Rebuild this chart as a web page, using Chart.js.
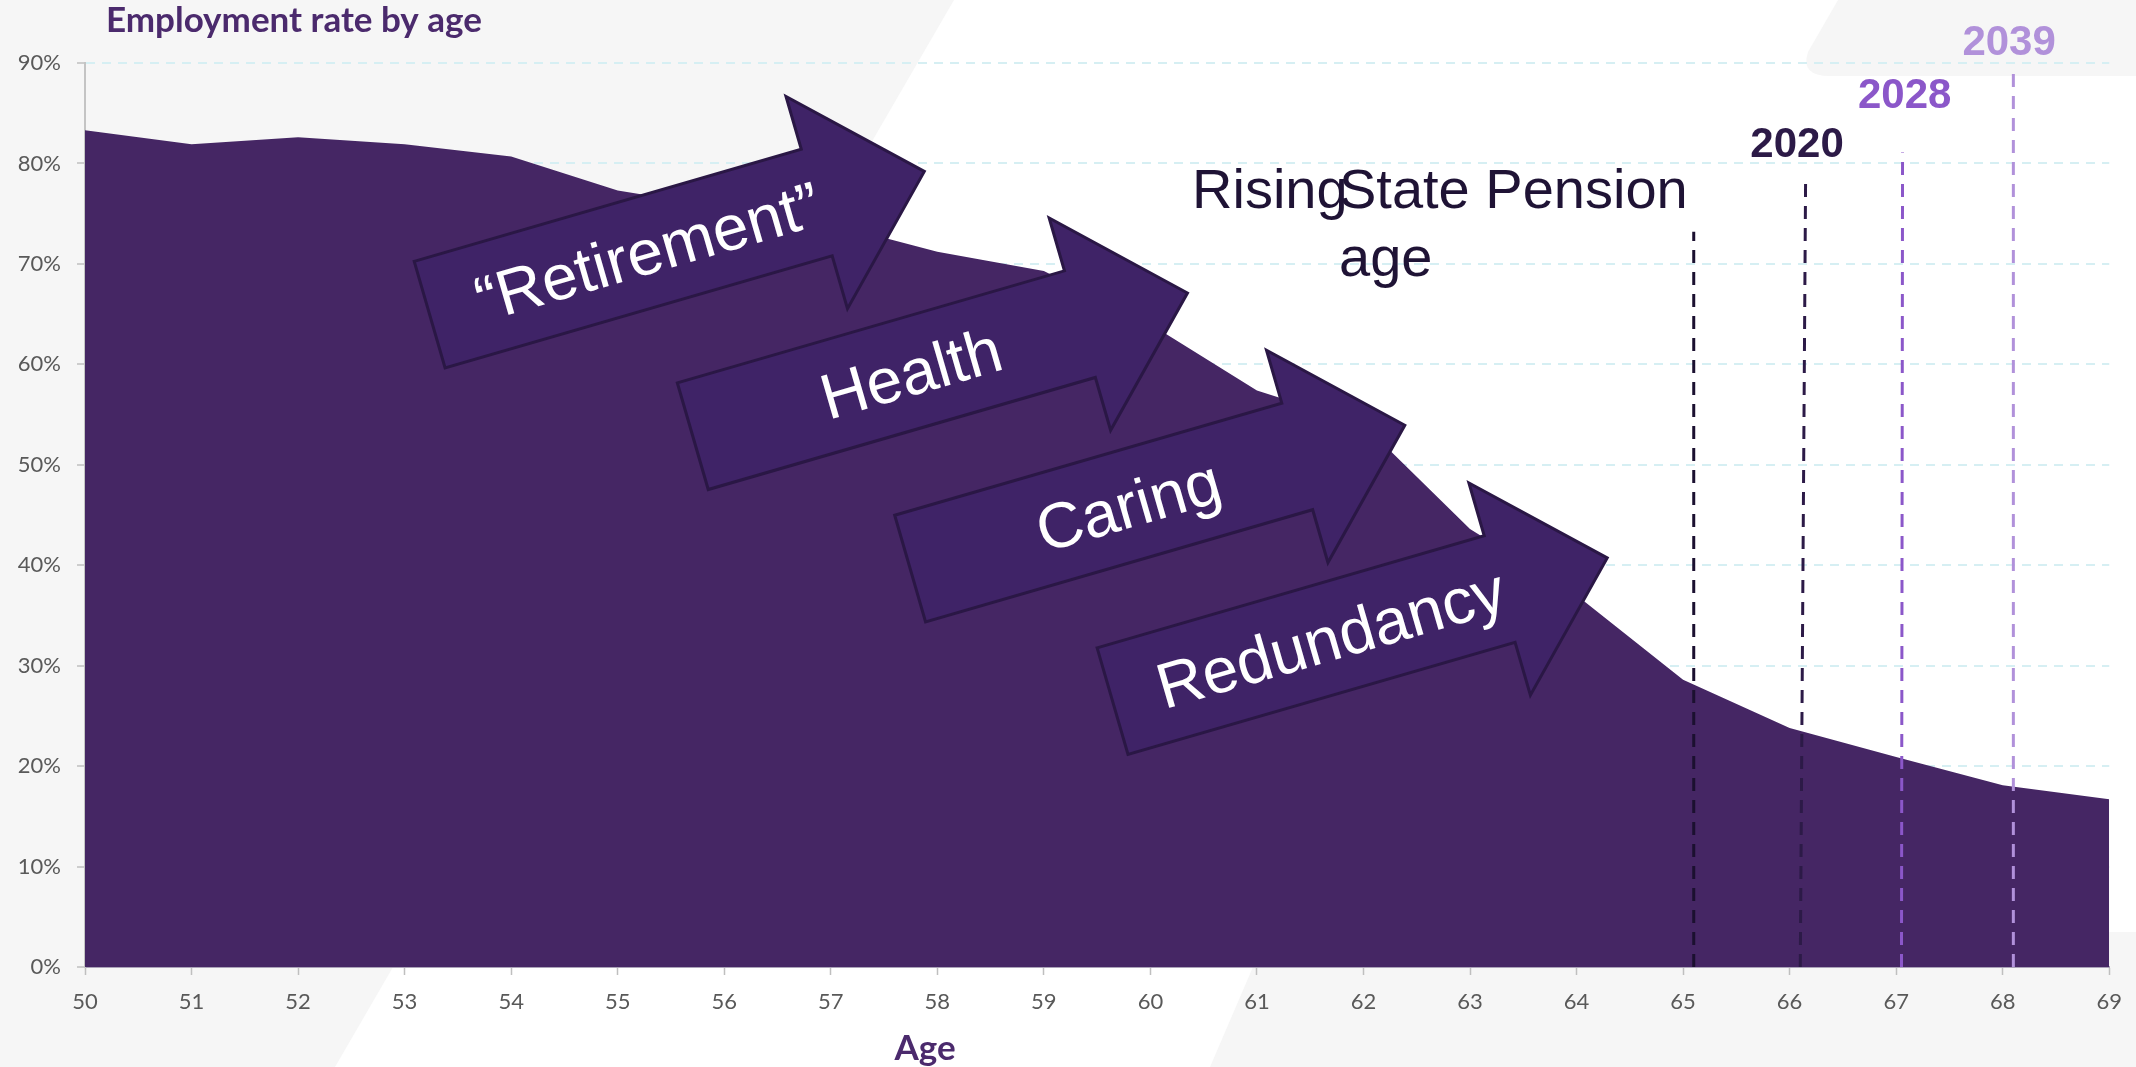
<!DOCTYPE html>
<html>
<head>
<meta charset="utf-8">
<script src="https://cdn.jsdelivr.net/npm/chart.js@4.4.0/dist/chart.umd.min.js"></script>
<style>
    html, body { margin: 0; padding: 0; background: #ffffff; }
    #wrap { width: 2136px; height: 1067px; }
</style>
</head>
<body>
<div id="wrap"><canvas id="employmentChart" width="2136" height="1067"></canvas></div>
<script>
// data
const ages = [50, 51, 52, 53, 54, 55, 56, 57, 58, 59, 60, 61, 62, 63, 64, 65, 66, 67, 68, 69];
const employmentRate = [83.3, 81.9, 82.6, 81.9, 80.7, 77.3, 75.6, 74.0, 71.2, 69.3, 64.0, 57.4, 54.0, 43.6, 37.0, 28.6, 23.8, 20.9, 18.1, 16.7];
const yTicks = [0, 10, 20, 30, 40, 50, 60, 70, 80, 90];

// state pension age markers
const pensionAgeBottom = [65.1, 66.1, 67.05, 68.1];
const pensionAgeTop = [65.1, 66.15, 67.06, 68.1];
const pensionLineTop = [73.2, 78.5, 81.1, 89.6];
const pensionYears = ['', '2020', '2028', '2039'];

const arrowLabels = ['\u201CRetirement\u201D', 'Health', 'Caring', 'Redundancy'];

// styles
const areaColor = '#452664';
const pensionColors = ['#1b1030', '#2c1a47', '#8b57c9', '#b191da'];
const labelAnchors = [null, [66.07, 81.8], [67.08, 86.7], [68.06, 91.9]];
const arrowAnchors = [[53.09, 70.25], [55.56, 58.15], [57.6, 44.98], [59.5, 31.77]];

const areaData = ages.map((a, i) => ({ x: a, y: employmentRate[i] }));

const pensionSets = pensionAgeBottom.map((a, i) => ({
    type: 'line',
    data: [{ x: a, y: 0 }, { x: pensionAgeTop[i], y: pensionLineTop[i] }],
    borderColor: pensionColors[i],
    borderWidth: 3,
    borderDash: [13, 9],
    pointRadius: 0,
    fill: false,
    order: 0
}));

const backdrop = {
    id: 'backdrop',
    beforeDraw(chart) {
        const ctx = chart.ctx;
        ctx.save();
        ctx.fillStyle = '#ffffff';
        ctx.fillRect(0, 0, chart.width, chart.height);
        ctx.fillStyle = '#f6f6f6';
        ctx.beginPath();
        ctx.moveTo(0, 0); ctx.lineTo(954, 0); ctx.lineTo(335, 1067); ctx.lineTo(0, 1067);
        ctx.closePath(); ctx.fill();
        ctx.beginPath();
        ctx.moveTo(1268, 932); ctx.lineTo(2136, 932); ctx.lineTo(2136, 1067); ctx.lineTo(1210, 1067);
        ctx.closePath(); ctx.fill();
        ctx.beginPath();
        ctx.moveTo(1838, 0); ctx.lineTo(2136, 0); ctx.lineTo(2136, 76); ctx.lineTo(1830, 76);
        ctx.quadraticCurveTo(1800, 76, 1808, 52);
        ctx.closePath(); ctx.fill();
        ctx.restore();
    }
};

const callouts = {
    id: 'callouts',
    afterDatasetsDraw(chart) {
        const ctx = chart.ctx;
        const xs = chart.scales.x, ys = chart.scales.y;
        const L = 403, T = 111, head = 112, over = 55;
        const angle = -16.15 * Math.PI / 180;

        arrowLabels.forEach((txt, i) => {
            const px = xs.getPixelForValue(arrowAnchors[i][0]);
            const py = ys.getPixelForValue(arrowAnchors[i][1]);
            ctx.save();
            ctx.translate(px, py);
            ctx.rotate(angle);
            ctx.beginPath();
            ctx.moveTo(0, 0);
            ctx.lineTo(L, 0);
            ctx.lineTo(L, -over);
            ctx.lineTo(L + head, T / 2);
            ctx.lineTo(L, T + over);
            ctx.lineTo(L, T);
            ctx.lineTo(0, T);
            ctx.closePath();
            ctx.fillStyle = '#3f2367';
            ctx.fill();
            ctx.lineWidth = 3;
            ctx.lineJoin = 'miter';
            ctx.strokeStyle = '#2a1745';
            ctx.stroke();
            ctx.fillStyle = '#ffffff';
            ctx.font = '64px "Liberation Sans", Arial, sans-serif';
            ctx.textAlign = 'center';
            ctx.textBaseline = 'middle';
            ctx.fillText(txt, 227, 60);
            ctx.restore();
        });

        ctx.save();
        ctx.font = 'bold 42px "Liberation Sans", Arial, sans-serif';
        ctx.textAlign = 'center';
        ctx.textBaseline = 'middle';
        pensionYears.forEach((yr, i) => {
            if (!yr) return;
            ctx.fillStyle = pensionColors[i];
            ctx.fillText(yr, xs.getPixelForValue(labelAnchors[i][0]), ys.getPixelForValue(labelAnchors[i][1]));
        });

        ctx.fillStyle = '#1f1335';
        ctx.font = '56px "Liberation Sans", Arial, sans-serif';
        ctx.textAlign = 'left';
        ctx.textBaseline = 'alphabetic';
        ctx.fillText('Rising', 1192, 208);
        ctx.fillText('State Pension', 1339, 208);
        ctx.fillText('age', 1339, 276);

        ctx.fillStyle = '#4b2a6d';
        ctx.font = 'bold 35px Lato, sans-serif';
        ctx.fillText('Employment rate by age', 106, 32);
        ctx.textAlign = 'center';
        ctx.font = 'bold 35px Lato, sans-serif';
        ctx.fillText('Age', 925, 1060);
        ctx.restore();
    }
};

const ctx = document.getElementById('employmentChart').getContext('2d');
const chart = new Chart(ctx, {
    type: 'line',
    data: {
        datasets: [
            {
                label: 'Employment rate',
                data: areaData,
                backgroundColor: areaColor,
                borderWidth: 0,
                pointRadius: 0,
                tension: 0,
                fill: 'origin',
                order: 10
            },
            ...pensionSets
        ]
    },
    options: {
        responsive: false,
        devicePixelRatio: 1,
        animation: false,
        layout: {
            padding: { top: 63, right: 26, left: 0, bottom: 0 }
        },
        plugins: {
            legend: { display: false },
            tooltip: { enabled: false }
        },
        scales: {
            x: {
                type: 'linear',
                min: 50,
                max: 69,
                z: 1,
                afterFit: s => { s.height = 100; },
                ticks: {
                    stepSize: 1,
                    padding: 14,
                    color: '#595959',
                    font: { family: 'Lato', size: 22 },
                    callback: v => Number.isInteger(v) ? String(v) : ''
                },
                grid: {
                    drawOnChartArea: false,
                    tickLength: 8,
                    tickColor: '#bfbfbf',
                    tickWidth: 1.5
                },
                border: { color: '#aaa2b8', width: 2 }
            },
            y: {
                min: 0,
                max: 90,
                afterFit: s => { s.width = 85; },
                afterBuildTicks: s => { s.ticks = yTicks.map(v => ({ value: v })); },
                ticks: {
                    padding: 16,
                    color: '#595959',
                    font: { family: 'Lato', size: 22 },
                    callback: v => v + '%'
                },
                grid: {
                    color: '#d6eff3',
                    lineWidth: 2,
                    tickLength: 8,
                    tickColor: '#bfbfbf',
                    tickWidth: 1.5
                },
                border: { color: '#c4c4c4', width: 2, dash: [9, 7] }
            }
        }
    },
    plugins: [backdrop, callouts]
});
</script>
</body>
</html>
